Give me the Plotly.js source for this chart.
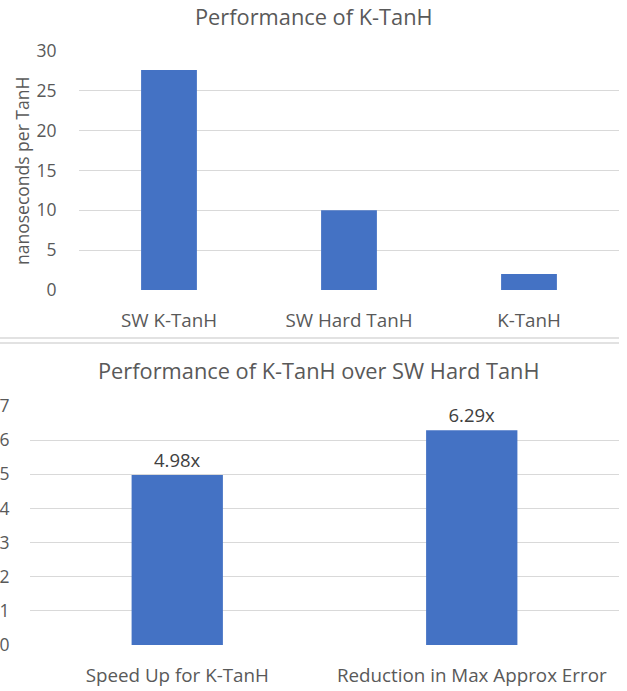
<!DOCTYPE html>
<html>
<head>
<meta charset="utf-8">
<script src="https://cdn.plot.ly/plotly-3.0.1.min.js"></script>
<style>
  html, body { margin: 0; padding: 0; background: #ffffff; }
  #chart { width: 627px; height: 691px; }
</style>
</head>
<body>
<div id="chart"></div>
<script>
// Top chart: time per TanH evaluation
const latencyCategories = ['SW K-TanH', 'SW Hard TanH', 'K-TanH'];
const latencyNs = [27.6, 10, 2];

// Bottom chart: K-TanH gains over SW Hard TanH
const gainCategories = ['Speed Up for K-TanH', 'Reduction in Max Approx Error'];
const gainFactors = [4.98, 6.29];

const latencyTicks = [0, 5, 10, 15, 20, 25, 30];
const gainTicks = [0, 1, 2, 3, 4, 5, 6, 7];

const FONT = '"Open Sans", Lato, sans-serif';
const TEXT_GREY = '#595959';
const GRID = '#d9d9d9';
const BAR = '#4472c4';
const TICK_SIZE = 17.5;
const CAT_SIZE = 18.8;
const VALUE_SIZE = 18.5;
const TITLE_SIZE = 21.8;

const traces = [
  {
    type: 'bar',
    x: latencyCategories,
    y: latencyNs,
    xaxis: 'x',
    yaxis: 'y',
    marker: { color: BAR },
    hoverinfo: 'x+y'
  },
  {
    type: 'bar',
    x: gainCategories,
    y: gainFactors,
    xaxis: 'x2',
    yaxis: 'y2',
    marker: { color: BAR },
    texttemplate: '%{y:.2f}x',
    textposition: 'outside',
    cliponaxis: false,
    textfont: { family: FONT, size: VALUE_SIZE, color: '#404040' },
    hoverinfo: 'x+y'
  }
];

const W = 627, H = 691;
const px = v => v / W;          // left-based pixel -> paper x
const py = v => 1 - v / H;      // top-based pixel -> paper y

const xCommon = {
  showgrid: false,
  zeroline: false,
  showline: false,
  ticks: 'outside',
  ticklen: 13,
  tickcolor: 'rgba(0,0,0,0)',
  tickfont: { family: FONT, size: CAT_SIZE, color: TEXT_GREY },
  fixedrange: true
};
const yCommon = {
  showgrid: true,
  gridcolor: GRID,
  gridwidth: 1,
  zeroline: false,
  showline: false,
  ticks: 'outside',
  ticklen: 18,
  tickcolor: 'rgba(0,0,0,0)',
  tickfont: { family: FONT, size: TICK_SIZE, color: TEXT_GREY },
  fixedrange: true
};

const layout = {
  width: W,
  height: H,
  margin: { l: 0, r: 0, t: 0, b: 0 },
  paper_bgcolor: '#ffffff',
  plot_bgcolor: '#ffffff',
  showlegend: false,
  bargap: 0.69,
  font: { family: FONT, color: TEXT_GREY },
  xaxis: Object.assign({}, xCommon, {
    domain: [px(79), px(619)],
    anchor: 'y'
  }),
  yaxis: Object.assign({}, yCommon, {
    domain: [py(290), py(51)],
    range: [0, 30],
    tickvals: latencyTicks,
    anchor: 'x'
  }),
  xaxis2: Object.assign({}, xCommon, {
    domain: [px(30), px(619)],
    anchor: 'y2'
  }),
  yaxis2: Object.assign({}, yCommon, {
    domain: [py(645), py(406)],
    range: [0, 7],
    tickvals: gainTicks,
    ticklen: 16,
    anchor: 'x2'
  }),
  annotations: [
    {
      text: 'Performance of K-TanH',
      xref: 'paper', yref: 'paper',
      x: px(314), y: py(17),
      xanchor: 'center', yanchor: 'middle',
      showarrow: false,
      font: { family: FONT, size: TITLE_SIZE, color: TEXT_GREY }
    },
    {
      text: 'nanoseconds per TanH',
      xref: 'paper', yref: 'paper',
      x: px(22), y: py(171),
      xanchor: 'center', yanchor: 'middle',
      textangle: -90,
      showarrow: false,
      font: { family: FONT, size: 17.5, color: TEXT_GREY }
    },
    {
      text: 'Performance of K-TanH over SW Hard TanH',
      xref: 'paper', yref: 'paper',
      x: px(319), y: py(370),
      xanchor: 'center', yanchor: 'middle',
      showarrow: false,
      font: { family: FONT, size: TITLE_SIZE, color: TEXT_GREY }
    }
  ],
  shapes: [
    // frame edges between the two charts
    {
      type: 'line', xref: 'paper', yref: 'paper',
      x0: 0, x1: px(619), y0: py(338), y1: py(338),
      line: { color: GRID, width: 1.5 }
    },
    {
      type: 'line', xref: 'paper', yref: 'paper',
      x0: 0, x1: px(619), y0: py(343), y1: py(343),
      line: { color: GRID, width: 1.5 }
    }
  ]
};

Plotly.newPlot('chart', traces, layout, { displayModeBar: false, staticPlot: true });
</script>
</body>
</html>
